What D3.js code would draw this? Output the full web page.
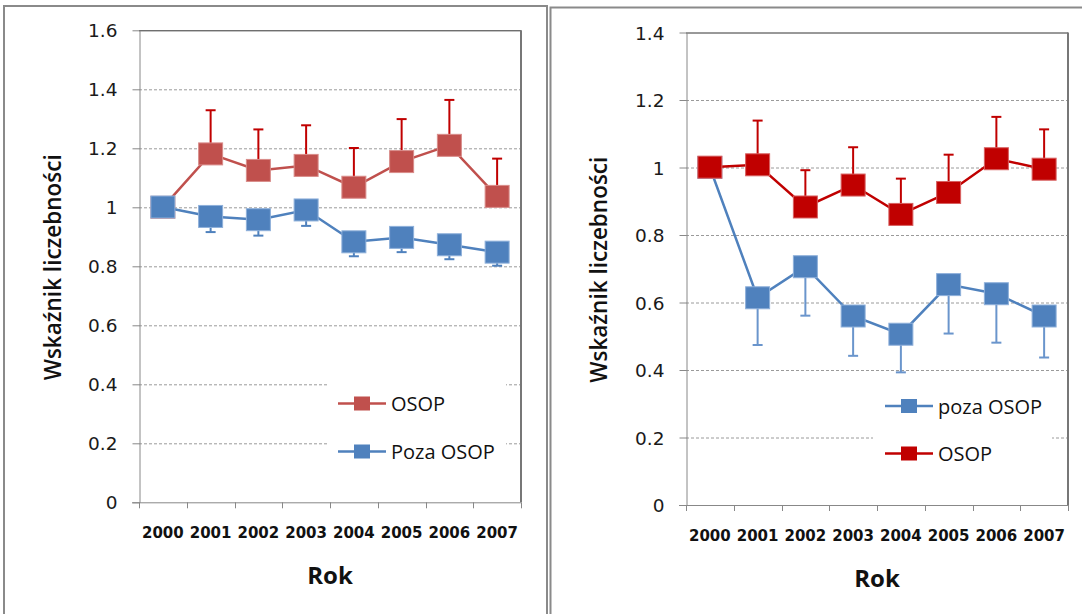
<!DOCTYPE html>
<html>
<head>
<meta charset="utf-8">
<script src="https://cdn.jsdelivr.net/npm/d3@7"></script>
<style>
  html, body { margin: 0; padding: 0; background: #fff; }
  svg { display: block; }
</style>
</head>
<body>
<svg id="chart" width="1082" height="614"></svg>
<script>
// Years on the category axis
const years = ["2000", "2001", "2002", "2003", "2004", "2005", "2006", "2007"];

// Left panel: index values and error-bar ends
const osopLeft      = [1.0, 1.181, 1.125, 1.142, 1.068, 1.155, 1.210, 1.037];
const osopLeftHigh  = [null, 1.329, 1.264, 1.278, 1.201, 1.299, 1.364, 1.165];
const pozaLeft      = [1.001, 0.969, 0.958, 0.991, 0.883, 0.898, 0.873, 0.848];
const pozaLeftLow   = [null, 0.916, 0.904, 0.937, 0.834, 0.848, 0.824, 0.802];
const leftTicks     = [0, 0.2, 0.4, 0.6, 0.8, 1, 1.2, 1.4, 1.6];

// Right panel: index values and error-bar ends
const pozaRight     = [1.0, 0.614, 0.706, 0.560, 0.506, 0.653, 0.626, 0.560];
const pozaRightLow  = [null, 0.474, 0.561, 0.442, 0.393, 0.508, 0.481, 0.437];
const osopRight     = [1.001, 1.008, 0.883, 0.948, 0.861, 0.926, 1.026, 0.995];
const osopRightHigh = [null, 1.139, 0.992, 1.060, 0.967, 1.038, 1.150, 1.113];
const rightTicks    = [0, 0.2, 0.4, 0.6, 0.8, 1, 1.2, 1.4];

const yTitle = "Wskaźnik liczebności";
const xTitle = "Rok";

const svg = d3.select("#chart");
const fmt = d => String(+(+d).toFixed(1));

// Panel frames
svg.append("path")
  .attr("d", "M4,614 V6 H547 V614")
  .attr("fill", "none").attr("stroke", "#8a8a8a").attr("stroke-width", 2);
svg.append("path")
  .attr("d", "M550.5,614 V7.5 H1082")
  .attr("fill", "none").attr("stroke", "#8a8a8a").attr("stroke-width", 2);

function drawPanel(cfg) {
  const g = svg.append("g");
  const x = d3.scaleBand().domain(years).range([cfg.left, cfg.right]).padding(0);
  const y = d3.scaleLinear().domain([0, cfg.max]).range([cfg.bottom, cfg.top]);
  const cx = d => x(d) + x.bandwidth() / 2;

  // Dashed horizontal gridlines (legend box masks part of them)
  g.append("g").selectAll("line")
    .data(cfg.ticks.filter(t => t > 0 && t < cfg.max))
    .join("line")
    .attr("x1", cfg.left).attr("x2", cfg.right)
    .attr("y1", d => y(d) + 0.5).attr("y2", d => y(d) + 0.5)
    .attr("stroke", "#9a9a9a").attr("stroke-width", 1)
    .attr("stroke-dasharray", "3,2");

  // Plot frame: top and right edges
  g.append("line")
    .attr("x1", cfg.left).attr("x2", cfg.right)
    .attr("y1", y(cfg.max) + 0.5).attr("y2", y(cfg.max) + 0.5)
    .attr("stroke", "#333").attr("stroke-width", 1);
  g.append("line")
    .attr("x1", cfg.right).attr("x2", cfg.right)
    .attr("y1", y(cfg.max)).attr("y2", cfg.bottom)
    .attr("stroke", "#777").attr("stroke-width", 2);

  // Y axis
  const yAxis = d3.axisLeft(y).tickValues(cfg.ticks).tickFormat(fmt)
    .tickSize(7).tickSizeOuter(0).tickPadding(15);
  const ya = g.append("g").attr("transform", `translate(${cfg.left + 0.5},0)`).call(yAxis);
  ya.select(".domain").attr("stroke", "#888").attr("stroke-width", 1);
  ya.selectAll(".tick line").attr("stroke", "#888");
  ya.selectAll(".tick text")
    .attr("font-family", "DejaVu Sans, Verdana, sans-serif")
    .attr("font-size", 18.5).attr("fill", "#1a1a1a")
    .attr("dy", "0.36em");

  // X axis: baseline with tick marks at category boundaries
  g.append("line")
    .attr("x1", cfg.left - 7).attr("x2", cfg.right)
    .attr("y1", cfg.bottom + 0.5).attr("y2", cfg.bottom + 0.5)
    .attr("stroke", "#888");
  const bounds = years.map(d => x(d)).concat([x(years[years.length - 1]) + x.bandwidth()]);
  g.append("g").selectAll("line").data(bounds).join("line")
    .attr("x1", d => Math.round(d) + 0.5).attr("x2", d => Math.round(d) + 0.5)
    .attr("y1", cfg.bottom).attr("y2", cfg.bottom + 6)
    .attr("stroke", "#888");
  const xAxis = d3.axisBottom(x).tickSize(0).tickPadding(0);
  const xa = g.append("g").attr("transform", `translate(0,${cfg.bottom})`).call(xAxis);
  xa.select(".domain").remove();
  xa.selectAll(".tick text")
    .attr("y", 35.5).attr("dy", 0)
    .attr("font-family", "DejaVu Sans, Verdana, sans-serif")
    .attr("font-weight", "bold").attr("font-size", 15).attr("fill", "#111");

  // Axis titles
  g.append("text")
    .attr("transform", `translate(${cfg.titleX},${(cfg.top + cfg.bottom) / 2 + 1}) rotate(-90)`)
    .attr("text-anchor", "middle")
    .attr("font-family", "Open Sans, sans-serif")
    .attr("font-weight", 600)
    .attr("font-size", 22.5).attr("fill", "#111")
    .text(yTitle);
  g.append("text")
    .attr("x", (cfg.left + cfg.right) / 2).attr("y", cfg.bottom + 82)
    .attr("text-anchor", "middle")
    .attr("font-family", "Open Sans, sans-serif")
    .attr("font-weight", "bold").attr("font-size", 24).attr("fill", "#111")
    .text(xTitle);

  // Legend background masks the gridlines behind it
  g.append("rect")
    .attr("x", cfg.legend.x).attr("y", cfg.legend.y)
    .attr("width", cfg.legend.w).attr("height", cfg.legend.h)
    .attr("fill", "#fff");

  // Series, drawn in order (later ones on top)
  cfg.series.forEach(s => {
    const pts = years.map((yr, i) => ({ yr, v: s.values[i], e: s.err[i] }));
    const sg = g.append("g");
    sg.append("path")
      .datum(pts)
      .attr("fill", "none").attr("stroke", s.color).attr("stroke-width", 2.5)
      .attr("d", d3.line().x(d => cx(d.yr)).y(d => y(d.v)));
    const eb = sg.append("g").selectAll("g").data(pts.filter(d => d.e != null)).join("g");
    eb.append("line")
      .attr("x1", d => cx(d.yr)).attr("x2", d => cx(d.yr))
      .attr("y1", d => y(d.v)).attr("y2", d => y(d.e))
      .attr("stroke", s.errColor).attr("stroke-width", 2);
    eb.append("line")
      .attr("x1", d => cx(d.yr) - 5).attr("x2", d => cx(d.yr) + 5)
      .attr("y1", d => y(d.e)).attr("y2", d => y(d.e))
      .attr("stroke", s.errColor).attr("stroke-width", 2);
    sg.append("g").selectAll("rect").data(pts).join("rect")
      .attr("x", d => cx(d.yr) - 12).attr("y", d => y(d.v) - 11)
      .attr("width", 24).attr("height", 22)
      .attr("fill", s.color).attr("stroke", s.edge).attr("stroke-width", 1);
  });

  // Legend entries
  cfg.legend.items.forEach((it, i) => {
    const ly = cfg.legend.rowY[i];
    const lx = cfg.legend.lineX;
    g.append("line")
      .attr("x1", lx).attr("x2", lx + 48)
      .attr("y1", ly).attr("y2", ly)
      .attr("stroke", it.color).attr("stroke-width", 2.5);
    g.append("rect")
      .attr("x", lx + 16).attr("y", ly - 7)
      .attr("width", 16).attr("height", 14)
      .attr("fill", it.color);
    g.append("text")
      .attr("x", lx + 53).attr("y", ly + 7.5)
      .attr("font-family", "Open Sans, sans-serif")
      .attr("font-size", 20).attr("fill", "#111")
      .text(it.label);
  });
}

const redL = "#C0504D", blue = "#4F81BD", redR = "#C00000";

drawPanel({
  left: 139, right: 521, top: 30.3, bottom: 502.3, max: 1.6, ticks: leftTicks,
  titleX: 61,
  series: [
    { values: osopLeft, err: osopLeftHigh, color: redL, errColor: "#C00000", edge: "#d98c8a" },
    { values: pozaLeft, err: pozaLeftLow, color: blue, errColor: blue, edge: "#8eb0da" }
  ],
  legend: {
    x: 328, y: 376, w: 178, h: 92, lineX: 338, rowY: [403.5, 451.5],
    items: [{ label: "OSOP", color: redL }, { label: "Poza OSOP", color: blue }]
  }
});

drawPanel({
  left: 686, right: 1068, top: 32.5, bottom: 505, max: 1.4, ticks: rightTicks,
  titleX: 607,
  series: [
    { values: pozaRight, err: pozaRightLow, color: blue, errColor: "#6a95cc", edge: "#8eb0da" },
    { values: osopRight, err: osopRightHigh, color: redR, errColor: redR, edge: "#d86060" }
  ],
  legend: {
    x: 873, y: 383, w: 179, h: 88, lineX: 885, rowY: [406, 453.5],
    items: [{ label: "poza OSOP", color: blue }, { label: "OSOP", color: redR }]
  }
});
</script>
</body>
</html>
